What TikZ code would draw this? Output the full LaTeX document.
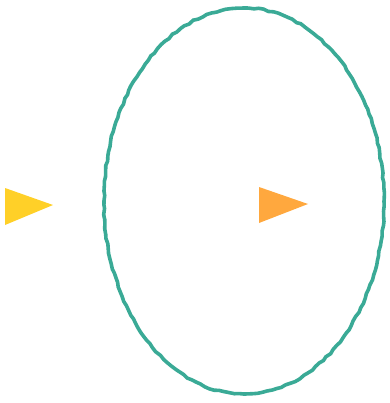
\documentclass[tikz,border=0pt]{standalone}
\usetikzlibrary{decorations.pathmorphing}
\definecolor{ringteal}{RGB}{58,170,150}
\definecolor{triyellow}{RGB}{255,208,40}
\definecolor{triorange}{RGB}{255,168,62}
\tikzset{
  ring/.style={draw=ringteal, line width=3.6pt, decorate,
    decoration={random steps, segment length=5pt, amplitude=0.7pt}},
  tri/.style={draw=none}
}
\pgfmathsetseed{7}
\begin{document}
\begin{tikzpicture}[x=1pt,y=-1pt]
\useasboundingbox (0,0) rectangle (389,403);
\coordinate (c) at (244,201);
\draw[ring] (c) ellipse [x radius=140, y radius=193];
\fill[triyellow] (5,188) -- (53,205) -- (5,225) -- cycle;
\fill[triorange] (259,187) -- (308,204) -- (259,223) -- cycle;
\end{tikzpicture}
\end{document}
